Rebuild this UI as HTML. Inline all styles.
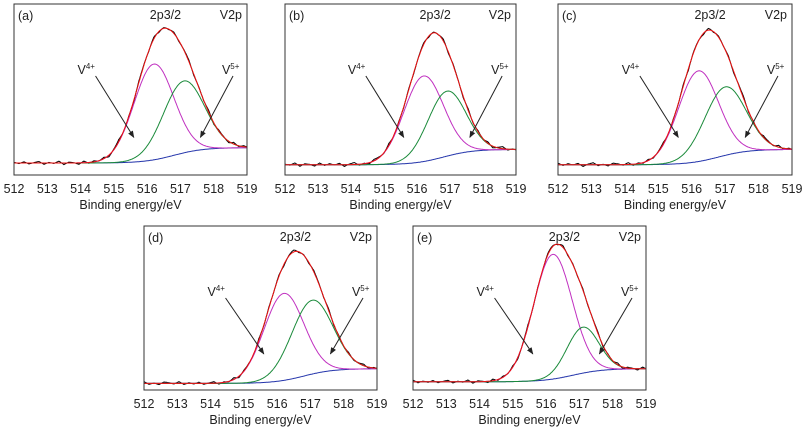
<!DOCTYPE html>
<html><head><meta charset="utf-8"><style>
body{margin:0;background:#fff;}
svg{display:block;font-family:"Liberation Sans",sans-serif;}
</style></head><body>
<svg id="fig" width="805" height="433" viewBox="0 0 805 433">
<defs><marker id="ah" viewBox="0 0 10 10" refX="9" refY="5" markerWidth="7" markerHeight="7" orient="auto"><path d="M0,1 L10,5 L0,9 z" fill="#222"/></marker></defs>
</svg>
<script>
// per-panel data
const panelLabels = ['(a)','(b)','(c)','(d)','(e)'];
const xTicks = [512,513,514,515,516,517,518,519];
const v4Center = [516.2,516.2,516.2,516.2,516.2];
const v4Height = [0.56,0.50,0.53,0.53,0.76];
const v4Sigma  = [0.6,0.6,0.6,0.6,0.58];
const v5Center = [517.1,516.9,517.0,517.05,517.1];
const v5Height = [0.42,0.38,0.40,0.45,0.28];
const v5Sigma  = [0.62,0.58,0.62,0.62,0.48];
const bgStart  = [0.07,0.06,0.06,0.04,0.05];
const bgRise   = [0.09,0.09,0.09,0.09,0.08];
const noise = [0.005,-0.004,0.008,-0.006,0.003,0.01,-0.008,0.004,-0.003,0.012,-0.01,0.006,0.002,-0.009,0.011,-0.005,0.007,-0.002,0.009,-0.011,0.004,0.013,-0.006,0.003,-0.008,0.01,0.005,-0.004,0.012,-0.007];
// layout
const boxes = [[14,4,233,171],[285,4,231,171],[558,4,234,171],[144,226,233,164],[413,226,233,164]];

const svg=document.getElementById('fig');
const NS='http://www.w3.org/2000/svg';
function mk(tag,attrs,parent){const e=document.createElementNS(NS,tag);for(const k in attrs)e.setAttribute(k,attrs[k]);(parent||svg).appendChild(e);return e;}
const g=(x,c,h,s)=>h*Math.exp(-((x-c)*(x-c))/(2*s*s));
boxes.forEach((b,i)=>{
  const [L,T,W,H]=b;
  const grp=mk('g',{});
  
  
  const sx=v=>L+(v-512)/7*W, sy=v=>T+H-v*H;
  const bg=x=>bgStart[i]+bgRise[i]/(1+Math.exp(-(x-516.8)/0.45));
  const curves={bg:[],v4:[],v5:[],sum:[],raw:[]};
  for(let k=0;k<=280;k++){
    const x=512+7*k/280;
    const b0=bg(x),a=g(x,v4Center[i],v4Height[i],v4Sigma[i]),c=g(x,v5Center[i],v5Height[i],v5Sigma[i]);
    curves.bg.push([sx(x),sy(b0)]);curves.v4.push([sx(x),sy(b0+a)]);curves.v5.push([sx(x),sy(b0+c)]);
    curves.sum.push([sx(x),sy(b0+a+c)]);
    const t=k/6, j=Math.floor(t), f=t-j;
    const n=noise[(j+i*7)%noise.length]*(1-f)+noise[(j+1+i*7)%noise.length]*f;
    curves.raw.push([sx(x),sy(b0+a+c+n*0.9)]);
  }
  const pd=p=>'M'+p.map(q=>q[0].toFixed(1)+','+q[1].toFixed(1)).join('L');
  const series=[['raw','#000','raw-data-line'],['bg','#2233aa','background-line'],['v4','#c030c0','v4-fit-line'],['v5','#1a8a3a','v5-fit-line'],['sum','#ee1010','envelope-fit-line']];
  series.forEach(s=>{const p=mk('path',{d:pd(curves[s[0]]),fill:'none',stroke:s[1],'stroke-width':1},grp);
    });
  const fr=mk('rect',{x:L,y:T,width:W,height:H,fill:'none',stroke:'#333','stroke-width':1},grp);
  
  xTicks.forEach(t=>{const tx=mk('text',{x:sx(t),y:T+H+18,'font-size':12.5,'text-anchor':'middle',fill:'#222'},grp);tx.textContent=t;
    });
  const at=mk('text',{x:L+W/2,y:T+H+34,'font-size':12.5,'text-anchor':'middle',fill:'#222'},grp);at.textContent='Binding energy/eV';
  
  const pl=mk('text',{x:L+4,y:T+16,'font-size':12.5,fill:'#222'},grp);pl.textContent=panelLabels[i];
  
  const pk=mk('text',{x:sx(516.55),y:T+15,'font-size':12.5,'text-anchor':'middle',fill:'#222'},grp);pk.textContent='2p3/2';
  
  const vp=mk('text',{x:L+W-5,y:T+15,'font-size':12.5,'text-anchor':'end',fill:'#222'},grp);vp.textContent='V2p';
  
  const l4=mk('text',{x:L+W*0.31,y:T+70,'font-size':12.5,'text-anchor':'middle',fill:'#222'},grp);
  l4.innerHTML='V<tspan font-size="8" dy="-5">4+</tspan>';
  
  const l5=mk('text',{x:L+W*0.93,y:T+70,'font-size':12.5,'text-anchor':'middle',fill:'#222'},grp);
  l5.innerHTML='V<tspan font-size="8" dy="-5">5+</tspan>';
  
  const a4=mk('line',{x1:L+W*0.35,y1:T+72,x2:sx(515.6),y2:T+H*0.78,stroke:'#222','stroke-width':1,'marker-end':'url(#ah)'},grp);
  
  const a5=mk('line',{x1:L+W*0.94,y1:T+72,x2:sx(517.6),y2:T+H*0.78,stroke:'#222','stroke-width':1,'marker-end':'url(#ah)'},grp);
  
});
</script>
</body></html>
